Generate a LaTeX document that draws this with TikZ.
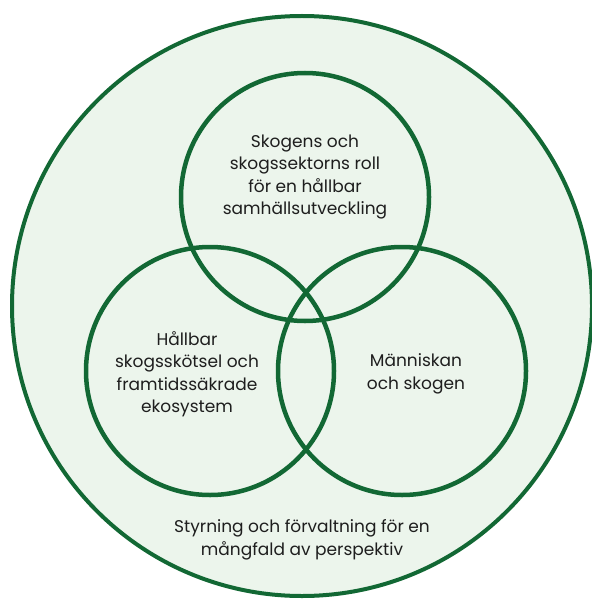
\documentclass[tikz,border=0pt]{standalone}
\usepackage{fontspec}
\setmainfont{Poppins}
\usetikzlibrary{positioning}
\definecolor{forest}{RGB}{18,104,52}
\definecolor{mist}{RGB}{236,245,236}
\definecolor{ink}{RGB}{30,30,30}
\tikzstyle{outer} = [circle, draw=forest, fill=mist, line width=4pt, minimum size=580pt, inner sep=0pt]
\tikzstyle{theme} = [circle, draw=forest, line width=4.5pt, minimum size=248pt, inner sep=0pt]
\tikzstyle{topic} = [text=ink, align=center, inner sep=0pt, font=\fontsize{17}{22.5}\selectfont]

\begin{document}
\begin{tikzpicture}[x=1pt, y=-1pt]
\useasboundingbox (0,0) rectangle (591,599);

% Governance
\node (gov) [outer] at (302,306) {};

% Themes
\node (society) [theme] at (305,197) {};
\node (forestry) [theme] at (210,371) {};
\node (people) [theme] at (402,371) {};

% Texts
\node (society-text) [topic, yshift=20pt] at (society) {Skogens och\\skogssektorns roll\\för en hållbar\\samhällsutveckling};
\node (forestry-text) [topic, xshift=-23pt, yshift=-3pt] at (forestry) {Hållbar\\skogsskötsel och\\framtidssäkrade\\ekosystem};
\node (people-text) [topic, xshift=14pt, yshift=-3pt] at (people) {Människan\\och skogen};
\node (gov-text) [topic, yshift=58pt] at (gov.south) {Styrning och förvaltning för en\\mångfald av perspektiv};

\end{tikzpicture}
\end{document}
